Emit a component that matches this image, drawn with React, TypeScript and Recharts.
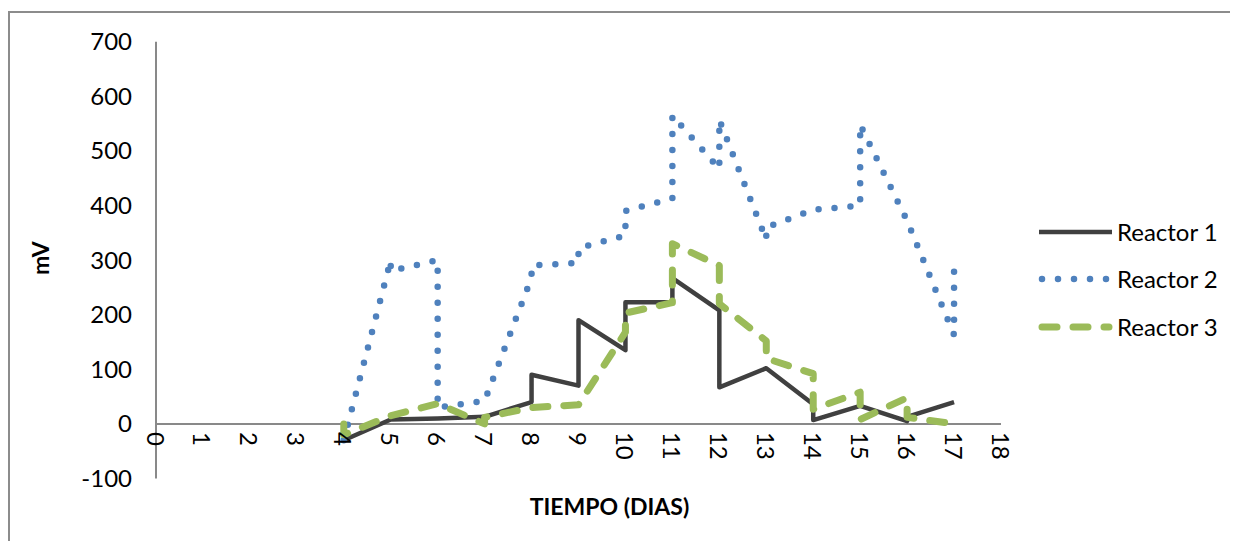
import React from "react";
import {
  LineChart,
  Line,
  XAxis,
  YAxis,
  ReferenceLine,
  Legend,
  Label,
} from "recharts";

// ---------- data ----------
const xTicks = [0, 1, 2, 3, 4, 5, 6, 7, 8, 9, 10, 11, 12, 13, 14, 15, 16, 17, 18];
const yTicks = [-100, 0, 100, 200, 300, 400, 500, 600, 700];

const reactor1Days = [4, 5, 6, 7, 8, 8, 9, 9, 10, 10, 11, 11, 12, 12, 13, 14, 14, 15, 16, 16, 17];
const reactor1Values = [-30, 8, 10, 13, 40, 90, 70, 190, 135, 223, 223, 267, 208, 67, 102, 36, 7, 33, 5, 13, 40];

const reactor2Days = [4, 5, 5, 6, 6, 7, 8, 8, 9, 9, 10, 10, 11, 11, 12, 12, 13, 13, 14, 15, 15, 16, 17, 17];
const reactor2Values = [-30, 300, 280, 300, 30, 42, 268, 290, 295, 322, 345, 390, 413, 565, 467, 557, 337, 360, 392, 400, 548, 372, 163, 295];

const reactor3Days = [4, 4, 5, 6, 7, 7, 8, 9, 10, 10, 11, 11, 12, 12, 13, 13, 14, 14, 15, 15, 16, 16, 17, 17];
const reactor3Values = [0, -20, 15, 37, 0, 12, 30, 35, 168, 203, 222, 330, 290, 220, 152, 120, 92, 27, 58, 8, 48, 12, 0, 6];

const seriesNames = ["Reactor 1", "Reactor 2", "Reactor 3"];

const toPoints = (days: number[], values: number[]) =>
  days.map((d, i) => ({ x: d, y: values[i] }));

const reactor1 = toPoints(reactor1Days, reactor1Values);
const reactor2 = toPoints(reactor2Days, reactor2Values);
const reactor3 = toPoints(reactor3Days, reactor3Values);

// ---------- styles ----------
const FONT = "Lato, 'Open Sans', sans-serif";
const AXIS_GRAY = "#898989";
const styles: Record<string, { stroke: string; width: number; dash?: string; cap: "round" | "butt" }> = {
  "Reactor 1": { stroke: "#404040", width: 4.5, cap: "butt" },
  "Reactor 2": { stroke: "#4F81BD", width: 6.5, dash: "0 16", cap: "round" },
  "Reactor 3": { stroke: "#9BBB59", width: 7, dash: "15 16", cap: "round" },
};

const CHART_W = 1230;
const CHART_H = 533;
const MARGIN = { top: 33.7, right: 237, left: 0, bottom: 32.5 };
const Y_AXIS_W = 148;
const X_AXIS_H = 30;
const Y_MIN = -100;
const Y_MAX = 700;
const PLOT_H = CHART_H - MARGIN.top - MARGIN.bottom - X_AXIS_H;
const ZERO_OFFSET = (PLOT_H * (0 - Y_MIN)) / (Y_MAX - Y_MIN);

const XTick = (props: any) => {
  const { x, y, payload } = props;
  const ty = y - ZERO_OFFSET + 8;
  return (
    <text
      x={x}
      y={ty}
      transform={`rotate(90, ${x}, ${ty})`}
      textAnchor="start"
      dominantBaseline="central"
      fontFamily={FONT}
      fontSize={24}
      fill="#000"
    >
      {payload.value}
    </text>
  );
};

const LegendContent = () => (
  <div style={{ fontFamily: FONT, fontSize: 24, color: "#000" }}>
    {seriesNames.map((name) => {
      const s = styles[name];
      return (
        <div key={name} style={{ display: "flex", alignItems: "center", height: 47.5 }}>
          <svg width={79} height={12} style={{ display: "block" }}>
            <line
              x1={s.cap === "round" ? 4 : 1}
              y1={6}
              x2={s.cap === "round" ? 71 : 74}
              y2={6}
              stroke={s.stroke}
              strokeWidth={s.width}
              strokeDasharray={s.dash}
              strokeLinecap={s.cap}
            />
          </svg>
          <span style={{ lineHeight: "24px" }}>{name}</span>
        </div>
      );
    })}
  </div>
);

export default function App() {
  const lines = [
    { name: "Reactor 1", data: reactor1 },
    { name: "Reactor 2", data: reactor2 },
    { name: "Reactor 3", data: reactor3 },
  ];
  return (
    <div style={{ position: "relative", width: CHART_W, height: CHART_H, overflow: "hidden", background: "#fff" }}>
      <div
        style={{
          position: "absolute",
          top: 3,
          left: 0,
          width: CHART_W + 20,
          height: CHART_H + 20,
          borderTop: "2px solid #8c8c8c",
          borderLeft: "2px solid #8c8c8c",
          boxSizing: "border-box",
        }}
      />
      <div style={{ position: "absolute", top: 0, left: 0 }}>
        <LineChart width={CHART_W} height={CHART_H} margin={MARGIN}>
          <XAxis
            type="number"
            dataKey="x"
            domain={[0, 18]}
            ticks={xTicks}
            interval={0}
            axisLine={false}
            tickLine={false}
            tickSize={0}
            tickMargin={0}
            height={X_AXIS_H}
            tick={<XTick />}
          >
            <Label
              content={(p: any) => {
                const vb = p.viewBox;
                return (
                  <text
                    x={vb.x + vb.width / 2 + 31}
                    y={vb.y + 27}
                    textAnchor="middle"
                    dominantBaseline="central"
                    fontFamily={FONT}
                    fontWeight={700}
                    fontSize={23}
                    fill="#000"
                  >
                    TIEMPO (DIAS)
                  </text>
                );
              }}
            />
          </XAxis>
          <YAxis
            type="number"
            domain={[Y_MIN, Y_MAX]}
            ticks={yTicks}
            interval={0}
            width={Y_AXIS_W}
            axisLine={{ stroke: AXIS_GRAY, strokeWidth: 2 }}
            tickLine={false}
            tickSize={0}
            tickMargin={24}
            tick={{ fontFamily: FONT, fontSize: 24, fill: "#000" }}
          >
            <Label
              content={(p: any) => {
                const vb = p.viewBox;
                const cx = vb.x + 32;
                const cy = vb.y + vb.height / 2 - 2;
                return (
                  <text
                    x={cx}
                    y={cy}
                    transform={`rotate(-90, ${cx}, ${cy})`}
                    textAnchor="middle"
                    dominantBaseline="central"
                    fontFamily={FONT}
                    fontWeight={700}
                    fontSize={23}
                    fill="#000"
                  >
                    mV
                  </text>
                );
              }}
            />
          </YAxis>
          <ReferenceLine y={0} stroke={AXIS_GRAY} strokeWidth={2} />
          {lines.map((l) => {
            const s = styles[l.name];
            return (
              <Line
                key={l.name}
                data={l.data}
                dataKey="y"
                name={l.name}
                type="linear"
                stroke={s.stroke}
                strokeWidth={s.width}
                strokeDasharray={s.dash}
                strokeLinecap={s.cap}
                strokeLinejoin="round"
                dot={false}
                activeDot={false}
                isAnimationActive={false}
              />
            );
          })}
          <Legend
            layout="vertical"
            align="center"
            verticalAlign="middle"
            content={<LegendContent />}
            wrapperStyle={{ position: "absolute", left: 1030, top: 200, width: 200, height: 143 }}
          />
        </LineChart>
      </div>
    </div>
  );
}
